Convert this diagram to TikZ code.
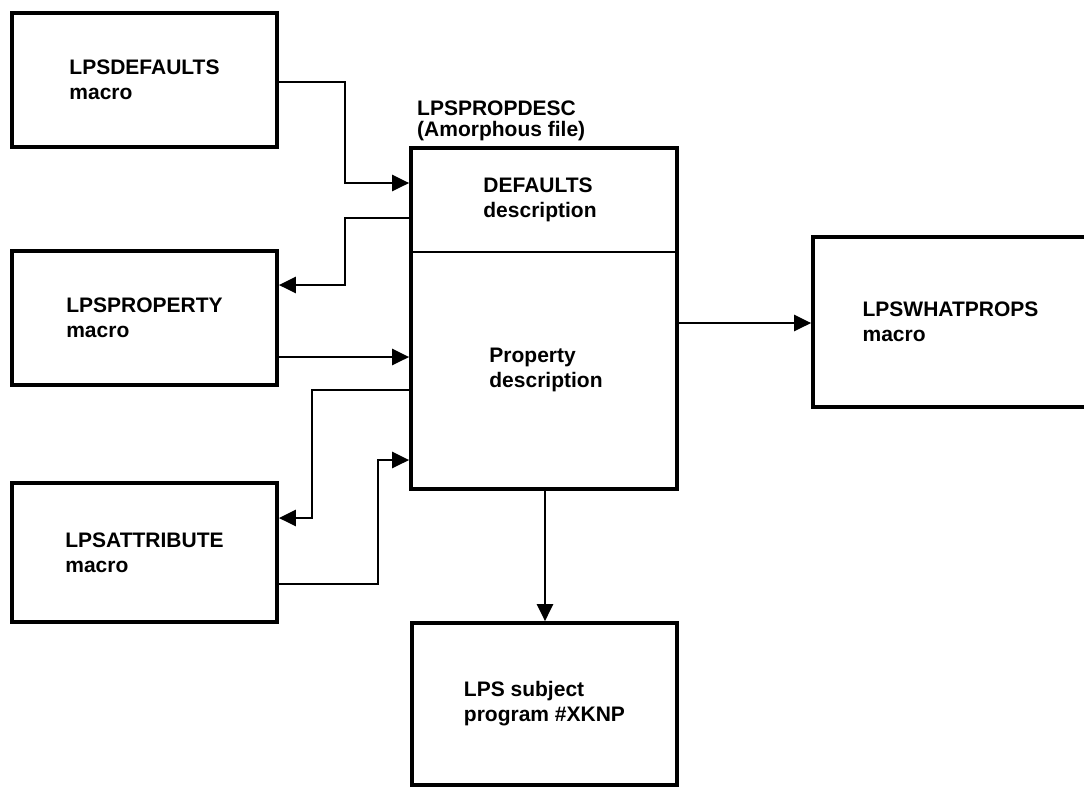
\documentclass[tikz,border=0pt]{standalone}
\usepackage{fontspec}
\setmainfont{Liberation Sans}
\usetikzlibrary{arrows.meta}
\begin{document}
\begin{tikzpicture}[x=1pt,y=-1pt,
  lbl/.style={font=\fontsize{21}{25}\selectfont\bfseries, align=left, inner sep=0pt},
  box/.style={draw, line width=3.7pt, lbl},
  conn/.style={line width=2.6pt, -{Triangle[length=17pt,width=16pt]}},
  divider/.style={line width=2.2pt}
]
\useasboundingbox (0,0) rectangle (1084,788);
\clip (0,0) rectangle (1084,788);

\node[box, minimum width=265pt, minimum height=134pt] (A) at (144.5,80) {LPSDEFAULTS\\macro};
\node[box, minimum width=265pt, minimum height=134pt] (B) at (144.5,318) {LPSPROPERTY\\macro};
\node[box, minimum width=265pt, minimum height=139pt] (C) at (144.5,552.5) {LPSATTRIBUTE\\macro};
\node[box, minimum width=266pt, minimum height=341pt] (D) at (544,318.5) {};
\node[box, minimum width=275pt, minimum height=170pt] (E) at (950.5,322) {LPSWHATPROPS\\macro};
\node[box, minimum width=265pt, minimum height=162pt] (F) at (544.5,704) {LPS subject\\program \#XKNP};

\node[lbl, anchor=north west, font=\fontsize{21}{21}\selectfont\bfseries] (Dlabel) at (417,101) {LPSPROPDESC\\(Amorphous file)};
\draw[divider] (D.west |- 0,252) -- (D.east |- 0,252);
\node[lbl] (Dtop) at (540,200) {DEFAULTS\\description};
\node[lbl] (Dbot) at (546,370) {Property\\description};

\draw[conn] (A.east |- 0,82) -- (345,82) |- (D.west |- 0,183);
\draw[conn] (D.west |- 0,218) -- (345,218) |- (B.east |- 0,285);
\draw[conn] (B.east |- 0,357) -- (D.west |- 0,357);
\draw[conn] (D.west |- 0,390) -- (312,390) |- (C.east |- 0,518);
\draw[conn] (C.east |- 0,584) -- (378,584) |- (D.west |- 0,460);
\draw[conn] (D.east |- 0,323) -- (E.west |- 0,323);
\draw[conn] (D.south -| 545,0) -- (F.north -| 545,0);
\end{tikzpicture}
\end{document}
